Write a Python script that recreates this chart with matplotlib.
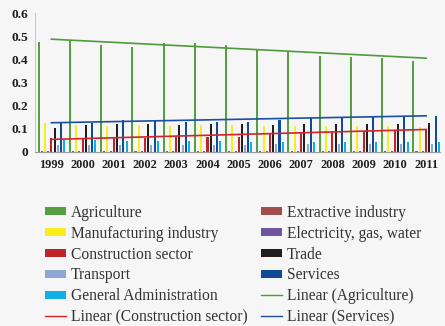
import matplotlib
matplotlib.use("Agg")
import matplotlib.pyplot as plt
from matplotlib.patches import Patch
from matplotlib.lines import Line2D
import numpy as np

# --- data -----------------------------------------------------------------
years = ["1999", "2000", "2001", "2002", "2003", "2004", "2005",
         "2006", "2007", "2008", "2009", "2010", "2011"]

agriculture   = [0.476, 0.478, 0.460, 0.453, 0.472, 0.469, 0.463,
                 0.441, 0.431, 0.413, 0.410, 0.407, 0.394]
extractive    = [0.004, 0.004, 0.004, 0.004, 0.004, 0.004, 0.004,
                 0.004, 0.004, 0.004, 0.004, 0.004, 0.004]
manufacturing = [0.125, 0.115, 0.114, 0.117, 0.114, 0.118, 0.115,
                 0.111, 0.114, 0.114, 0.111, 0.111, 0.107]
electricity   = [0.006, 0.006, 0.006, 0.006, 0.006, 0.006, 0.006,
                 0.006, 0.006, 0.006, 0.006, 0.006, 0.006]
construction  = [0.058, 0.054, 0.062, 0.062, 0.065, 0.065, 0.065,
                 0.082, 0.082, 0.085, 0.089, 0.094, 0.100]
trade         = [0.105, 0.116, 0.120, 0.120, 0.116, 0.120, 0.122,
                 0.116, 0.120, 0.120, 0.122, 0.122, 0.127]
transport     = [0.029, 0.030, 0.031, 0.031, 0.031, 0.032, 0.032,
                 0.033, 0.033, 0.034, 0.034, 0.035, 0.035]
services      = [0.125, 0.125, 0.137, 0.134, 0.130, 0.130, 0.130,
                 0.140, 0.145, 0.148, 0.151, 0.151, 0.154]
general_adm   = [0.050, 0.050, 0.048, 0.048, 0.046, 0.046, 0.045,
                 0.045, 0.044, 0.044, 0.043, 0.043, 0.043]

# linear trend end points (first year, last year)
trend_agriculture  = [0.487, 0.405]
trend_construction = [0.054, 0.097]
trend_services     = [0.126, 0.156]

series = [
    ("Agriculture", agriculture, "#56a044"),
    ("Extractive industry", extractive, "#a44c4a"),
    ("Manufacturing industry", manufacturing, "#f8ee1c"),
    ("Electricity, gas, water", electricity, "#6e569c"),
    ("Construction sector", construction, "#c0242b"),
    ("Trade", trade, "#221e1f"),
    ("Transport", transport, "#8ea6d3"),
    ("Services", services, "#0f4b98"),
    ("General Administration", general_adm, "#12aee8"),
]
trends = [
    ("Linear (Agriculture)", trend_agriculture, "#4f9a3c"),
    ("Linear (Construction sector)", trend_construction, "#d2232b"),
    ("Linear (Services)", trend_services, "#1d4ea6"),
]
# --------------------------------------------------------------------------

bg = "#f6f6f6"
plt.rcParams["font.family"] = ["Liberation Serif", "DejaVu Serif"]

fig = plt.figure(figsize=(4.45, 3.26), dpi=100, facecolor=bg)
ax = fig.add_axes([0.079, 0.534, 0.91, 0.426], facecolor=bg)

x = np.arange(len(years))
slot, width = 0.102, 0.066
for i, (name, vals, col) in enumerate(series):
    ax.bar(x + (i - 4) * slot, vals, width, color=col, label=name, zorder=2)

for name, ends, col in trends:
    ax.plot([x[0], x[-1]], ends, color=col, lw=1.2, zorder=3)

ax.set_xlim(-0.52, 12.45)
ax.set_ylim(0, 0.6)
ax.set_yticks(np.arange(0, 0.61, 0.1))
ax.set_yticklabels(["0", "0.1", "0.2", "0.3", "0.4", "0.5", "0.6"])
ax.set_xticks(x)
ax.set_xticklabels(years)
for lab in ax.get_xticklabels():
    lab.set_fontweight("bold")
    lab.set_fontsize(8.8)
    lab.set_color("#1e1e1e")
for lab in ax.get_yticklabels():
    lab.set_fontweight("bold")
    lab.set_fontsize(9.6)
    lab.set_color("#1e1e1e")
ax.tick_params(length=0, pad=5)
ax.tick_params(axis="y", pad=5)
for s in ["top", "right"]:
    ax.spines[s].set_visible(False)
ax.spines["left"].set_color("#c8c8c8")
ax.spines["bottom"].set_color("#9a9a9a")

left_items = [series[0], series[2], series[4], series[6], series[8], trends[1]]
right_items = [series[1], series[3], series[5], series[7], trends[0], trends[2]]

def handles(items):
    hs = []
    for name, vals, col in items:
        if name.startswith("Linear"):
            hs.append(Line2D([], [], color=col, lw=1.0))
        else:
            hs.append(Patch(facecolor=col))
    return hs

kw = dict(loc="upper left", frameon=False, fontsize=11.2, borderpad=0,
          handlelength=1.35, handleheight=0.42, handletextpad=0.3,
          labelspacing=0.31, borderaxespad=0, labelcolor="#333333")
fig.legend(handles(left_items), [n for n, _, _ in left_items],
           bbox_to_anchor=(45 / 445, 1 - 205 / 326), **kw)
fig.legend(handles(right_items), [n for n, _, _ in right_items],
           bbox_to_anchor=(261 / 445, 1 - 205 / 326), **kw)

plt.savefig("out.png", dpi=100, facecolor=bg)
